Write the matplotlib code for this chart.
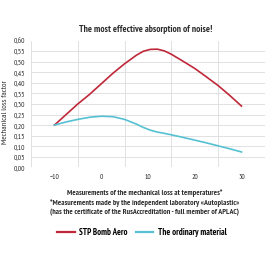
import matplotlib
matplotlib.use('Agg')
import matplotlib.pyplot as plt
from matplotlib.lines import Line2D

plt.rcParams['font.family'] = ['PT Sans Narrow', 'Roboto Condensed', 'DejaVu Sans']

temps = [-10, -7.5, -5, -2.5, 0, 2.5, 5, 7.5, 9, 10.5, 12, 13.5, 15, 17.5, 20, 22.5, 25, 27.5, 30]
stp_bomb = [0.20, 0.25, 0.30, 0.345, 0.395, 0.445, 0.49, 0.53, 0.549, 0.558, 0.559, 0.551,
            0.535, 0.502, 0.468, 0.428, 0.387, 0.340, 0.29]
ordinary = [0.20, 0.215, 0.227, 0.237, 0.242, 0.240, 0.227, 0.205, 0.189, 0.176, 0.167,
            0.161, 0.154, 0.142, 0.129, 0.116, 0.102, 0.088, 0.073]
x_ticks = [-10, 0, 10, 20, 30]
y_ticks = [i * 0.05 for i in range(13)]

red = '#c0283a'
cyan = '#55c1d2'
grid_c = '#dcdcdc'
txt = '#2b2b2b'

fig = plt.figure(figsize=(2.7, 2.7), dpi=100)
ax = fig.add_axes([0.115, 0.380, 0.866, 0.470])
ax.plot(temps, stp_bomb, color=red, lw=1.2)
ax.plot(temps, ordinary, color=cyan, lw=1.2)

ax.set_xlim(-15, 35)
ax.set_ylim(0, 0.6)
ax.set_xticks(x_ticks)
ax.set_xticks(range(-15, 36, 10), minor=True)
ax.set_yticks(y_ticks)
ax.set_yticklabels([f'{v:.2f}'.replace('.', ',') for v in y_ticks])
ax.grid(True, which='minor', axis='x', color=grid_c, lw=0.6)
ax.grid(True, which='major', axis='y', color=grid_c, lw=0.6)
ax.tick_params(which='both', length=0, labelsize=5.4, colors=txt)
ax.tick_params(axis='y', pad=4)
ax.tick_params(axis='x', pad=5)
for s in ax.spines.values():
    s.set_visible(False)
ax.set_axisbelow(True)

fig.text(0.54, 0.889, 'The most effective absorption of noise!', ha='center', va='center',
         fontsize=6.8, fontweight='bold', color=txt)
fig.text(0.022, 0.585, 'Mechanical loss factor', rotation=90, ha='center', va='center',
         fontsize=6, color=txt)
footer = ['Measurements of the mechanical loss at temperatures*',
          '*Measurements made by the independent laboratory «Autoplastic»',
          '(has the certificate of the RusAccreditation - full member of APLAC)']
for i, line in enumerate(footer):
    fig.text(0.535, 0.285 - i * 0.037, line, ha='center', va='center',
             fontsize=5.7, fontweight='bold', color=txt)

handles = [Line2D([], [], color=red, lw=1.6), Line2D([], [], color=cyan, lw=1.6)]
fig.legend(handles, ['STP Bomb Aero', 'The ordinary material'], loc='center',
           bbox_to_anchor=(0.525, 0.14), ncol=2, frameon=False, handlelength=2.0,
           handletextpad=0.5, columnspacing=0.9,
           prop={'size': 6.4, 'weight': 'bold'})

fig.savefig('out.png', dpi=100)
